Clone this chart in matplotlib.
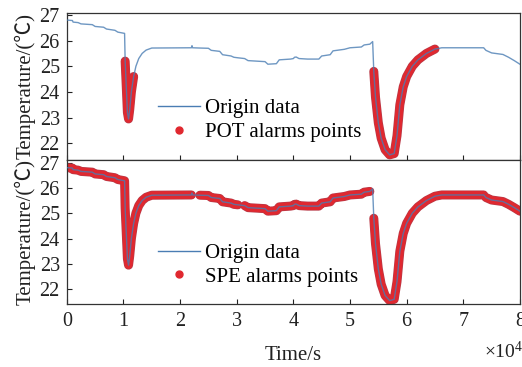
import numpy as np
import matplotlib
matplotlib.use('AGG')
import matplotlib.pyplot as plt
import matplotlib.patheffects as pe
from matplotlib.lines import Line2D
from matplotlib.ticker import FuncFormatter

plt.rcParams['font.family'] = ['Liberation Serif', 'Noto Sans CJK SC']
plt.rcParams['mathtext.fontset'] = 'custom'
plt.rcParams['mathtext.rm'] = 'Liberation Serif'

# origin data, time in units of 1e4 s, temperature in degC
time_e4 = [0.00, 0.10, 0.11, 0.20, 0.25, 0.45, 0.50, 0.65, 0.70, 0.85, 0.90, 1.02,
           1.03, 1.05, 1.07, 1.09, 1.11, 1.14, 1.18, 1.22, 1.27, 1.33, 1.40, 1.50,
           2.20, 2.21, 2.22, 2.35, 2.50, 2.55, 2.70, 2.75, 2.90, 2.95, 3.02, 3.14,
           3.20, 3.50, 3.55, 3.70, 3.75, 3.95, 4.00, 4.02, 4.05, 4.10, 4.25, 4.45,
           4.50, 4.65, 4.70, 4.90, 5.00, 5.20, 5.25, 5.35, 5.40, 5.42, 5.45, 5.50,
           5.55, 5.62, 5.70, 5.78, 5.83, 5.88, 5.94, 6.00, 6.10, 6.20, 6.35, 6.50,
           6.62, 7.36, 7.40, 7.50, 7.70, 7.80, 7.90, 8.00]
temp = [26.80, 26.78, 26.72, 26.70, 26.65, 26.62, 26.55, 26.52, 26.45, 26.40, 26.33, 26.28,
        25.20, 24.20, 23.20, 22.95, 23.30, 24.00, 24.60, 25.00, 25.30, 25.50, 25.63, 25.71,
        25.72, 25.80, 25.72, 25.71, 25.70, 25.62, 25.58, 25.45, 25.40, 25.35, 25.33, 25.30,
        25.22, 25.18, 25.08, 25.10, 25.25, 25.28, 25.30, 25.35, 25.36, 25.30, 25.28, 25.28,
        25.40, 25.45, 25.60, 25.66, 25.72, 25.75, 25.83, 25.86, 25.96, 24.80, 23.80, 22.80,
        22.20, 21.75, 21.55, 21.60, 22.30, 23.50, 24.20, 24.60, 25.00, 25.25, 25.50, 25.67,
        25.72, 25.72, 25.62, 25.52, 25.46, 25.35, 25.22, 25.08]

# alarm windows (1e4 s)
pot_windows = [(1.03, 1.18), (5.42, 6.50)]
spe_windows = [(0.00, 2.20), (2.35, 3.02), (3.14, 4.02), (4.05, 5.35), (5.42, 7.36), (7.40, 8.00)]

ticks_x = [0, 1, 2, 3, 4, 5, 6, 7, 8]
ticks_y = [22, 23, 24, 25, 26, 27]

t = np.array(time_e4) * 1e4
T = np.array(temp)

line_color = '#4a7db3'
red = '#e0282f'

fig = plt.figure(figsize=(5.22, 3.67), dpi=100)
ax1 = fig.add_axes([0.128, 0.564, 0.868, 0.401])
ax2 = fig.add_axes([0.128, 0.172, 0.868, 0.392])


def draw_panel(ax, windows, label, ylim):
    for (a, b) in windows:
        m = (t >= a * 1e4 - 1) & (t <= b * 1e4 + 1)
        ax.plot(t[m], T[m], color=red, lw=5.5, solid_capstyle='round', solid_joinstyle='round',
                zorder=2, path_effects=[pe.Stroke(linewidth=6.5, foreground='#b83a48'), pe.Normal()])
    ax.plot(t, T, color=line_color, lw=1.0, zorder=3, alpha=0.8)
    ax.set_xlim(0, 8e4)
    ax.set_ylim(*ylim)
    ax.set_xticks(np.array(ticks_x) * 1e4)
    ax.set_yticks(ticks_y)
    ax.tick_params(direction='in', length=3.5, width=0.8, labelsize=14.5, colors='#222222')
    ax.tick_params(axis='x', pad=6)
    ax.tick_params(axis='y', pad=5)
    for s in ax.spines.values():
        s.set_linewidth(0.9)
        s.set_color('#333333')
    ax.set_ylabel('Temperature/(℃)', fontsize=15, labelpad=3, color='#222222')
    handles = [Line2D([], [], color=line_color, lw=1.0),
               Line2D([], [], ls='none', marker='o', color=red, ms=5)]
    ax.legend(handles, ['Origin data', label], loc='center left', bbox_to_anchor=(0.17, 0.27),
              frameon=False, fontsize=15, handlelength=2.0, handletextpad=0.25,
              labelspacing=0.2, borderpad=0.2)


draw_panel(ax1, pot_windows, 'POT alarms points', (21.35, 27.08))
draw_panel(ax2, spe_windows, 'SPE alarms points', (21.42, 27.1))

ax1.tick_params(axis='x', labelbottom=False)
ax2.xaxis.set_major_formatter(FuncFormatter(lambda v, p: '%d' % round(v / 1e4)))
ax2.set_xlabel('Time/s', fontsize=15, labelpad=11, color='#222222')
fig.text(0.965, 0.025, r'$\times\mathregular{10^{4}}$', fontsize=14, ha='center', color='#222222')

fig.savefig('out.png', dpi=100)
